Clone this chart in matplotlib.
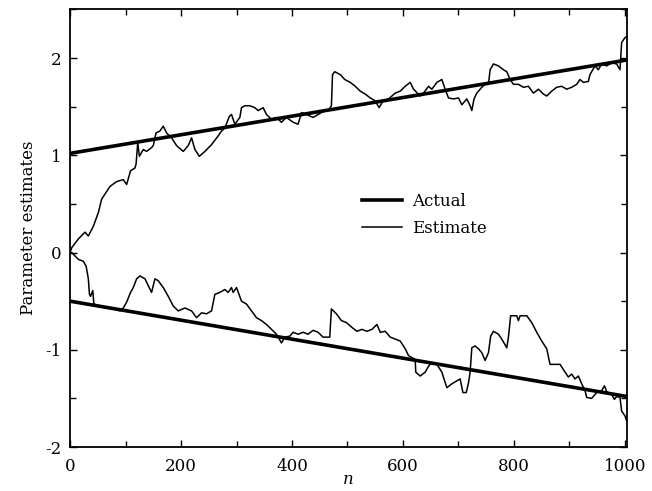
import numpy as np
import matplotlib
matplotlib.use('Agg')
import matplotlib.pyplot as plt
from matplotlib.ticker import MultipleLocator

# true parameter values (straight drift)
actualN = [0, 1003]
actualA = [1.02, 1.98]
actualB = [-0.50, -1.48]

# running estimate of the first parameter
estN_a = [0, 3, 15, 27, 33, 42, 51, 57, 65, 72, 84, 96, 102, 109, 117, 119, 122, 125,
          132, 138, 147, 150, 155, 162, 168, 174, 183, 192, 204, 213, 219, 225, 233,
          243, 255, 267, 273, 279, 287, 291, 297, 306, 309, 315, 324, 333, 339, 348,
          354, 363, 372, 381, 390, 402, 411, 417, 426, 438, 447, 459, 465, 471, 473,
          477, 487, 495, 505, 514, 523, 532, 541, 550, 557, 564, 574, 580, 586, 595,
          604, 613, 619, 631, 637, 646, 652, 661, 670, 676, 682, 691, 700, 706, 715,
          721, 724, 728, 733, 742, 748, 754, 757, 763, 772, 781, 787, 793, 799, 808,
          817, 826, 835, 844, 853, 859, 868, 877, 886, 895, 904, 913, 919, 925, 934,
          937, 946, 952, 958, 967, 976, 985, 991, 994, 1000, 1003]
estA = [0.00, 0.05, 0.14, 0.21, 0.17, 0.27, 0.41, 0.55, 0.62, 0.68, 0.73, 0.75, 0.70,
        0.84, 0.87, 0.91, 1.13, 0.99, 1.06, 1.04, 1.08, 1.10, 1.23, 1.25, 1.30, 1.23,
        1.18, 1.10, 1.04, 1.10, 1.18, 1.06, 0.99, 1.04, 1.11, 1.20, 1.25, 1.28, 1.40,
        1.42, 1.32, 1.39, 1.49, 1.51, 1.51, 1.49, 1.46, 1.49, 1.42, 1.37, 1.39, 1.34,
        1.39, 1.34, 1.32, 1.44, 1.42, 1.39, 1.42, 1.46, 1.46, 1.51, 1.83, 1.86, 1.83,
        1.78, 1.75, 1.71, 1.66, 1.63, 1.59, 1.56, 1.49, 1.56, 1.58, 1.61, 1.64, 1.66,
        1.71, 1.75, 1.68, 1.61, 1.64, 1.71, 1.68, 1.75, 1.78, 1.68, 1.59, 1.58, 1.59,
        1.52, 1.58, 1.51, 1.46, 1.58, 1.64, 1.70, 1.73, 1.73, 1.88, 1.94, 1.92, 1.88,
        1.86, 1.78, 1.73, 1.73, 1.70, 1.71, 1.64, 1.68, 1.63, 1.61, 1.66, 1.70, 1.71,
        1.68, 1.70, 1.73, 1.78, 1.75, 1.76, 1.83, 1.92, 1.88, 1.94, 1.92, 1.95, 1.94,
        1.88, 2.16, 2.21, 2.22]

# running estimate of the second parameter
estN_b = [0, 3, 15, 24, 29, 33, 35, 37, 41, 43, 54, 66, 78, 90, 96, 102, 109, 114, 120,
          126, 135, 141, 147, 153, 159, 168, 177, 186, 195, 207, 219, 228, 237, 246,
          255, 261, 270, 279, 285, 291, 294, 300, 309, 318, 327, 336, 345, 354, 363,
          372, 381, 387, 396, 402, 411, 420, 429, 438, 447, 456, 468, 471, 480, 489,
          498, 508, 517, 526, 535, 544, 553, 559, 568, 577, 586, 595, 604, 610, 622,
          623, 631, 640, 646, 652, 661, 670, 679, 688, 697, 703, 708, 714, 718, 721,
          724, 730, 736, 742, 748, 754, 758, 763, 772, 778, 787, 790, 794, 805, 808,
          811, 823, 832, 841, 850, 859, 865, 874, 883, 892, 898, 904, 910, 916, 922,
          928, 931, 940, 949, 958, 963, 967, 976, 981, 985, 991, 994, 1000, 1003]
estB = [0.00, 0.00, -0.07, -0.09, -0.14, -0.27, -0.43, -0.45, -0.39, -0.53, -0.55,
        -0.57, -0.57, -0.60, -0.57, -0.51, -0.41, -0.36, -0.27, -0.24, -0.27, -0.34,
        -0.41, -0.27, -0.29, -0.36, -0.45, -0.55, -0.60, -0.57, -0.60, -0.67, -0.62,
        -0.63, -0.60, -0.43, -0.41, -0.38, -0.41, -0.36, -0.41, -0.36, -0.50, -0.53,
        -0.60, -0.67, -0.70, -0.74, -0.79, -0.84, -0.93, -0.87, -0.86, -0.82, -0.84,
        -0.82, -0.84, -0.80, -0.82, -0.87, -0.87, -0.58, -0.63, -0.70, -0.72, -0.77,
        -0.81, -0.79, -0.81, -0.79, -0.74, -0.82, -0.81, -0.87, -0.89, -0.91, -0.99,
        -1.06, -1.10, -1.23, -1.27, -1.23, -1.17, -1.13, -1.15, -1.23, -1.39, -1.35,
        -1.32, -1.30, -1.44, -1.44, -1.34, -1.23, -0.98, -0.96, -0.99, -1.03, -1.11,
        -1.03, -0.86, -0.81, -0.84, -0.89, -0.98, -0.87, -0.65, -0.65, -0.70, -0.65,
        -0.65, -0.72, -0.82, -0.91, -0.99, -1.15, -1.15, -1.15, -1.23, -1.28, -1.25,
        -1.30, -1.27, -1.35, -1.42, -1.49, -1.50, -1.44, -1.42, -1.37, -1.43, -1.46,
        -1.51, -1.48, -1.49, -1.63, -1.68, -1.73]

plt.rcParams['font.family'] = 'DejaVu Serif'
plt.rcParams['axes.unicode_minus'] = False

fig = plt.figure(figsize=(6.52, 4.91), dpi=100)
ax = fig.add_axes([0.1074, 0.0896, 0.8537, 0.8911])

ax.plot(actualN, actualA, color='black', linewidth=2.6, label='Actual')
ax.plot(actualN, actualB, color='black', linewidth=2.6)
ax.plot(estN_a, estA, color='black', linewidth=1.1, label='Estimate')
ax.plot(estN_b, estB, color='black', linewidth=1.1)

ax.set_xlim(0, 1003)
ax.set_ylim(-2, 2.5)
ax.xaxis.set_major_locator(MultipleLocator(200))
ax.xaxis.set_minor_locator(MultipleLocator(100))
ax.yaxis.set_major_locator(MultipleLocator(1))
ax.yaxis.set_minor_locator(MultipleLocator(0.5))
ax.tick_params(which='both', direction='in', top=True, right=True,
               labelsize=12, width=1.0)
ax.tick_params(which='major', length=5)
ax.tick_params(which='minor', length=4)
ax.tick_params(axis='x', pad=8)
ax.tick_params(axis='y', pad=6)
for spine in ax.spines.values():
    spine.set_linewidth(1.3)

ax.set_xlabel('n', fontstyle='italic', fontsize=12, labelpad=-3)
ax.set_ylabel('Parameter estimates', fontsize=12, labelpad=6)

ax.legend(loc='center left', bbox_to_anchor=(0.524, 0.53), frameon=False,
          fontsize=12, handlelength=2.4, handletextpad=0.6, labelspacing=0.6,
          borderpad=0, borderaxespad=0)

fig.savefig('out.png', dpi=100)
